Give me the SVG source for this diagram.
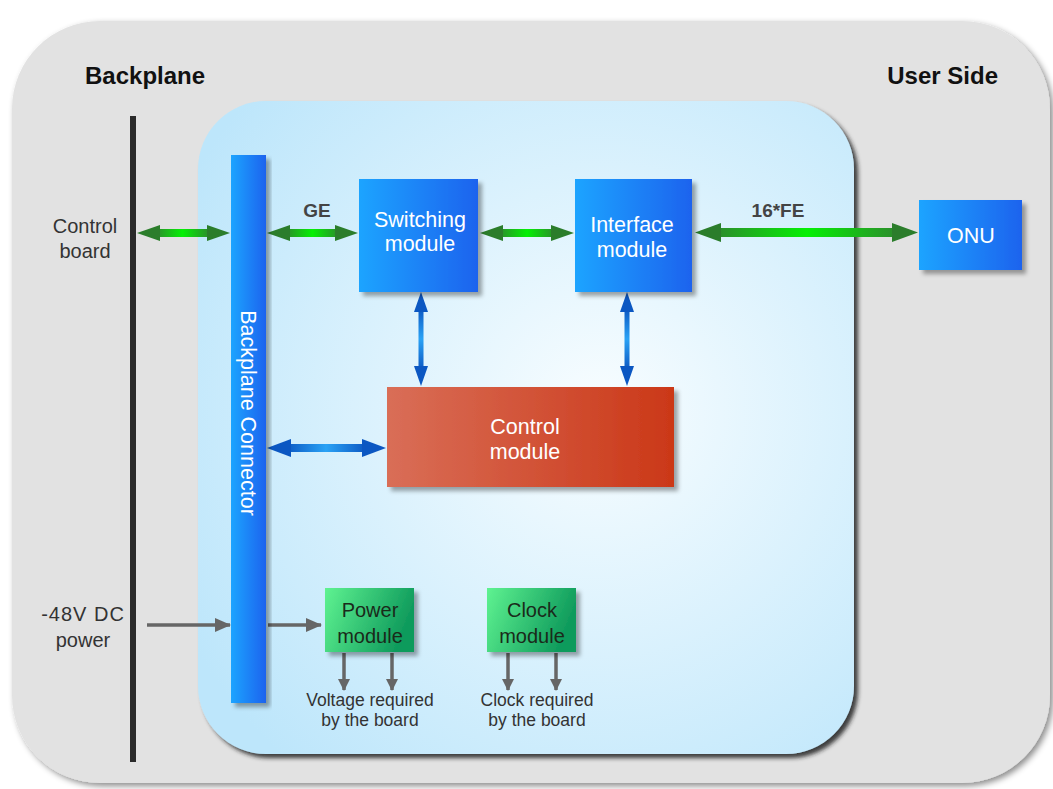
<svg xmlns="http://www.w3.org/2000/svg" width="1053" height="789" viewBox="0 0 1053 789">
<defs>
<style>
.title{font-family:"Liberation Sans",Arial,sans-serif;font-weight:bold;font-size:24px;fill:#111}
.lbl{font-family:"Liberation Sans",Arial,sans-serif;font-size:20px;fill:#333}
.blbl{font-family:"Liberation Sans",Arial,sans-serif;font-weight:bold;font-size:19px;fill:#444}
.wt{font-family:"Liberation Sans",Arial,sans-serif;font-size:21.5px;fill:#fff;text-anchor:middle}
.dk{font-family:"Liberation Sans",Arial,sans-serif;font-size:20px;fill:#1a2a1a;text-anchor:middle}
.sm{font-family:"Liberation Sans",Arial,sans-serif;font-size:17.5px;fill:#333;text-anchor:middle}
.gshaft{fill:url(#gShaft)}
.ghead{fill:#2b7d2b}
.bshaft{fill:url(#bShaftH)}
.bshaftv{fill:url(#bShaftV)}
.bhead{fill:#0b57c2}
.gray{stroke:#666;stroke-width:3.5;fill:none}
</style>
<linearGradient id="blueBox" x1="0" y1="0" x2="1" y2="0">
<stop offset="0" stop-color="#1ba4ff"/><stop offset="1" stop-color="#1f63ee"/>
</linearGradient>
<linearGradient id="redBox" x1="0" y1="0" x2="1" y2="0">
<stop offset="0" stop-color="#d96e57"/><stop offset="1" stop-color="#cb3818"/>
</linearGradient>
<linearGradient id="greenBox" x1="0" y1="0" x2="1" y2="0.3">
<stop offset="0" stop-color="#5ff391"/><stop offset="1" stop-color="#0f9b5c"/>
</linearGradient>
<linearGradient id="gShaft" x1="0" y1="0" x2="1" y2="0">
<stop offset="0" stop-color="#2d8a2d"/><stop offset="0.5" stop-color="#05f005"/><stop offset="1" stop-color="#2d8a2d"/>
</linearGradient>
<linearGradient id="bShaftH" x1="0" y1="0" x2="1" y2="0">
<stop offset="0" stop-color="#0b57c2"/><stop offset="0.5" stop-color="#2aa2f5"/><stop offset="1" stop-color="#0b57c2"/>
</linearGradient>
<linearGradient id="bShaftV" x1="0" y1="0" x2="0" y2="1">
<stop offset="0" stop-color="#0b57c2"/><stop offset="0.5" stop-color="#2aa2f5"/><stop offset="1" stop-color="#0b57c2"/>
</linearGradient>
<radialGradient id="panel" gradientUnits="userSpaceOnUse" cx="600" cy="410" r="470">
<stop offset="0" stop-color="#f8fdff"/><stop offset="1" stop-color="#bde6fb"/>
</radialGradient>
<filter id="outerSh" x="-5%" y="-5%" width="110%" height="110%">
<feDropShadow dx="3" dy="3" stdDeviation="3" flood-color="#000" flood-opacity="0.45"/>
</filter>
<filter id="panelSh" x="-5%" y="-5%" width="110%" height="110%">
<feDropShadow dx="4" dy="4" stdDeviation="2" flood-color="#222" flood-opacity="0.85"/>
</filter>
<filter id="boxSh" x="-10%" y="-10%" width="125%" height="125%">
<feDropShadow dx="4" dy="4" stdDeviation="2" flood-color="#000" flood-opacity="0.35"/>
</filter>
<marker id="grayHead" markerUnits="userSpaceOnUse" markerWidth="16" markerHeight="14" refX="15" refY="7" orient="auto">
<path d="M0,0 L16,7 L0,14 Z" fill="#666"/>
</marker>
<marker id="grayHeadS" markerUnits="userSpaceOnUse" markerWidth="12" markerHeight="12" refX="11" refY="6" orient="auto">
<path d="M0,0 L12,6 L0,12 Z" fill="#666"/>
</marker>
</defs>

<g id="frame">
<rect x="12" y="21" width="1038" height="762" rx="88" ry="88" fill="#e2e2e2" filter="url(#outerSh)"/>
<rect x="198" y="101" width="656" height="653" rx="68" ry="68" fill="url(#panel)" filter="url(#panelSh)"/>
<line x1="133" y1="116" x2="133" y2="762" stroke="#2a2a2a" stroke-width="6"/>
</g>

<g id="labels">
<text class="title" x="85" y="84">Backplane</text>
<text class="title" x="998" y="84" text-anchor="end">User Side</text>
<text class="lbl" x="85" y="233" text-anchor="middle">Control</text>
<text class="lbl" x="85" y="258" text-anchor="middle">board</text>
<text class="lbl" x="83" y="621" text-anchor="middle" letter-spacing="1">-48V DC</text>
<text class="lbl" x="83" y="647" text-anchor="middle">power</text>
<text class="blbl" x="317" y="217" text-anchor="middle">GE</text>
<text class="blbl" x="778" y="217" text-anchor="middle">16*FE</text>
<text class="sm" x="370" y="706">Voltage required</text>
<text class="sm" x="370" y="726">by the board</text>
<text class="sm" x="537" y="706">Clock required</text>
<text class="sm" x="537" y="726">by the board</text>
</g>

<g id="connectors">
<g>
<rect class="gshaft" x="155" y="229" width="55" height="8"/>
<polygon class="ghead" points="137,233 160,225 160,241"/>
<polygon class="ghead" points="230,233 207,225 207,241"/>
</g>
<g>
<rect class="gshaft" x="285" y="229" width="55" height="8"/>
<polygon class="ghead" points="267,233 290,225 290,241"/>
<polygon class="ghead" points="358,233 335,225 335,241"/>
</g>
<g>
<rect class="gshaft" x="498" y="229" width="58" height="8"/>
<polygon class="ghead" points="480,233 503,225 503,241"/>
<polygon class="ghead" points="574,233 551,225 551,241"/>
</g>
<g>
<rect class="gshaft" x="715" y="228" width="184" height="9"/>
<polygon class="ghead" points="695,232.5 721,223 721,242"/>
<polygon class="ghead" points="918,232.5 892,223 892,242"/>
</g>
<g>
<rect class="bshaftv" x="418.5" y="308" width="5" height="62"/>
<polygon class="bhead" points="421,292 414,312 428,312"/>
<polygon class="bhead" points="421,386 414,366 428,366"/>
</g>
<g>
<rect class="bshaftv" x="624.5" y="308" width="5" height="62"/>
<polygon class="bhead" points="627,292 620,312 634,312"/>
<polygon class="bhead" points="627,386 620,366 634,366"/>
</g>
<g>
<rect class="bshaft" x="285" y="444" width="82" height="8"/>
<polygon class="bhead" points="267,448 291,439 291,457"/>
<polygon class="bhead" points="386,448 362,439 362,457"/>
</g>
<line class="gray" x1="147" y1="625" x2="230" y2="625" marker-end="url(#grayHead)"/>
<line class="gray" x1="268" y1="625" x2="321" y2="625" marker-end="url(#grayHead)"/>
<line class="gray" x1="344" y1="653" x2="344" y2="690" stroke-width="3" marker-end="url(#grayHeadS)"/>
<line class="gray" x1="392" y1="653" x2="392" y2="690" stroke-width="3" marker-end="url(#grayHeadS)"/>
<line class="gray" x1="508" y1="653" x2="508" y2="690" stroke-width="3" marker-end="url(#grayHeadS)"/>
<line class="gray" x1="556" y1="653" x2="556" y2="690" stroke-width="3" marker-end="url(#grayHeadS)"/>
</g>

<g id="backplane-connector">
<rect x="231" y="155" width="35" height="548" fill="url(#blueBox)" filter="url(#boxSh)"/>
<text class="wt" x="0" y="0" font-size="21" transform="translate(241,413) rotate(90)">Backplane Connector</text>
</g>

<g id="switching-module">
<rect x="359" y="179" width="119" height="113" fill="url(#blueBox)" filter="url(#boxSh)"/>
<text class="wt" x="420" y="227">Switching</text>
<text class="wt" x="420" y="251">module</text>
</g>

<g id="interface-module">
<rect x="575" y="179" width="117" height="113" fill="url(#blueBox)" filter="url(#boxSh)"/>
<text class="wt" x="632" y="232">Interface</text>
<text class="wt" x="632" y="257">module</text>
</g>

<g id="onu">
<rect x="919" y="200" width="103" height="70" fill="url(#blueBox)" filter="url(#boxSh)"/>
<text class="wt" x="971" y="243" font-size="20">ONU</text>
</g>

<g id="control-module">
<rect x="387" y="387" width="287" height="100" fill="url(#redBox)" filter="url(#boxSh)"/>
<text class="wt" x="525" y="434">Control</text>
<text class="wt" x="525" y="459">module</text>
</g>

<g id="power-module">
<rect x="325" y="588" width="89" height="64" fill="url(#greenBox)" filter="url(#boxSh)"/>
<text class="dk" x="370" y="617">Power</text>
<text class="dk" x="370" y="643">module</text>
</g>

<g id="clock-module">
<rect x="487" y="588" width="89" height="64" fill="url(#greenBox)" filter="url(#boxSh)"/>
<text class="dk" x="532" y="617">Clock</text>
<text class="dk" x="532" y="643">module</text>
</g>
</svg>
